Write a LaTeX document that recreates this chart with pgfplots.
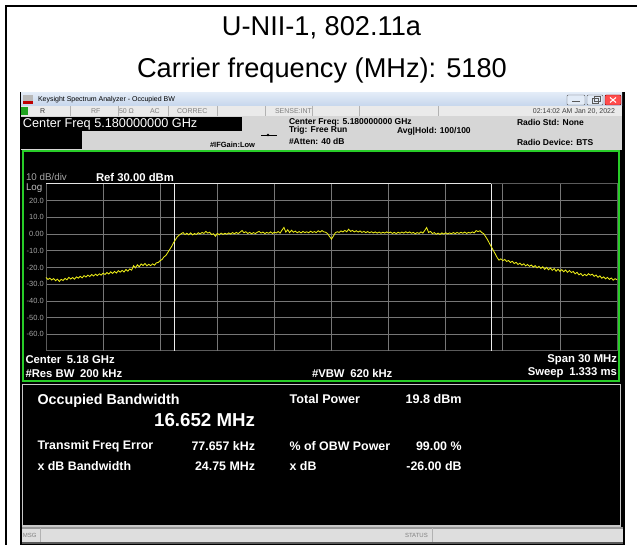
\documentclass[border=0pt]{standalone}
\usepackage{pgfplots}
\pgfplotsset{compat=1.18}
\usepackage{fontspec}
\setmainfont{Liberation Sans}
\definecolor{trace}{RGB}{236,236,24}
\definecolor{ggreen}{RGB}{40,205,40}
\definecolor{gridc}{RGB}{118,118,118}
\definecolor{labg}{RGB}{165,165,165}
\definecolor{hdr}{RGB}{214,214,214}
\definecolor{rowc}{RGB}{234,234,234}
\definecolor{tbA}{RGB}{226,235,247}
\definecolor{tbB}{RGB}{198,214,236}
\definecolor{boxb}{RGB}{200,200,200}
\definecolor{stat}{RGB}{222,222,222}
\newcommand{\fs}[1]{\fontsize{#1}{#1}\selectfont}
\begin{document}
\begin{tikzpicture}
\useasboundingbox (0pt,0pt) rectangle (637pt,545pt);
\begin{scope}[x=1pt, y=1pt, shift={(0,545)}, yscale=-1, every node/.style={inner sep=0pt, outer sep=0pt}]
% outer frame
\draw[line width=2pt] (6,546) -- (6,6) -- (640,6);
% titles
\node at (321.5,28) {\fs{27.2}U-NII-1, 802.11a};
\node at (322,70) {\fs{27.2}Carrier frequency (MHz): 5180};
% screenshot base
\fill[black] (20,92) rectangle (625,545);
% title bar
\shade[top color=tbA, bottom color=tbB] (21,93) rectangle (622,106);
\fill[gray!55] (23,95) rectangle (33,101);
\fill[red!75!black] (23,101) rectangle (33,104);
\node[anchor=west] at (38,99.5) {\fs{7}Keysight Spectrum Analyzer - Occupied BW};
\draw[gray!70!black, fill=tbA, rounded corners=1pt] (567,95) rectangle (585,105);
\draw[gray!70!black, line width=1pt] (572,101.5) -- (580,101.5);
\draw[gray!70!black, fill=tbA, rounded corners=1pt] (587,95) rectangle (603,105);
\draw[gray!70!black] (592,98) rectangle (598,103);
\draw[gray!70!black] (594,96.5) rectangle (600,101);
\draw[red!50!black, fill=red!70!white, rounded corners=1pt] (605,95) rectangle (621,105);
\draw[white, line width=1pt] (610,97.5) -- (616,102.5) (610,102.5) -- (616,97.5);
% status row
\fill[rowc] (21,106) rectangle (622,116);
\fill[ggreen!80!black] (21,107) rectangle (28,115);
\foreach \sx in {70,118,168,217,265,312,359,438} {\draw[gray!60] (\sx,106) -- (\sx,116);}
\node[anchor=west] at (40,111) {\fs{7}\color{black!80}R};
\node[anchor=west] at (91,111) {\fs{7}\color{gray}RF};
\node[anchor=west] at (119,111) {\fs{7}\color{gray}50 Ω};
\node[anchor=west] at (150,111) {\fs{7}\color{gray}AC};
\node[anchor=west] at (177,111) {\fs{7}\color{gray}CORREC};
\node[anchor=west] at (275,111) {\fs{7}\color{gray}SENSE:INT};
\node[anchor=east] at (615,112) {\fs{7}\color{black!75}02:14:02 AM Jan 20, 2022};
% header
\fill[hdr] (21,116) rectangle (622,150);
\fill[black] (21,117) rectangle (242,131);
\node[anchor=west] at (23,124) {\fs{12.7}\color{white}Center Freq 5.180000000 GHz};
\fill[black] (21,131) rectangle (82,149);
\node[anchor=west] at (210,145) {\fs{7.5}\bfseries \#IFGain:Low};
\draw[line width=0.6pt] (261,135) -- (277,135);
\fill (268,135) circle (1.3);
\node[anchor=west] at (289,122) {\fs{8.5}\bfseries Center Freq: 5.180000000 GHz};
\node[anchor=west] at (289,130.5) {\fs{8.5}\bfseries Trig: Free Run};
\node[anchor=west] at (289,141.5) {\fs{8.5}\bfseries \#Atten: 40 dB};
\node[anchor=west] at (397,131) {\fs{8.5}\bfseries Avg|Hold: 100/100};
\node[anchor=west] at (517,122) {\fs{8.5}\bfseries Radio Std: None};
\node[anchor=west] at (517,142) {\fs{8.5}\bfseries Radio Device: BTS};
% green frame
\draw[ggreen, line width=2.4pt] (23.2,151.2) rectangle (619.2,380.8);
\node[anchor=west] at (26,177) {\fs{9.8}\color{labg}10 dB/div};
\node[anchor=west] at (96,177) {\fs{11.3}\bfseries\color{white}Ref 30.00 dBm};
\node[anchor=west] at (26,188) {\fs{9.8}\color{labg!70!white}Log};
\node[anchor=west] at (25.5,360) {\fs{11.3}\bfseries\color{white}Center\hspace{0.5em}5.18 GHz};
\node[anchor=west] at (25.5,373) {\fs{11.3}\bfseries\color{white}\#Res BW\hspace{0.5em}200 kHz};
\node[anchor=west] at (312,373) {\fs{11.3}\bfseries\color{white}\#VBW\hspace{0.5em}620 kHz};
\node[anchor=east] at (617,360) {\fs{11.3}\bfseries\color{white}Span 30 MHz};
\node[anchor=east] at (617,373) {\fs{11.3}\bfseries\color{white}Sweep\hspace{0.5em}1.333 ms};
% result box
\draw[boxb, line width=1.2pt] (22.6,384.6) rectangle (620.4,526);
\node[anchor=west] at (37.5,401) {\fs{14.3}\bfseries\color{white}Occupied Bandwidth};
\node[anchor=east] at (255,420) {\fs{18.7}\bfseries\color{white}16.652 MHz};
\node[anchor=west] at (289.6,399) {\fs{12.6}\bfseries\color{white}Total Power};
\node[anchor=east] at (461.6,399) {\fs{12.6}\bfseries\color{white}19.8 dBm};
\node[anchor=west] at (37.5,446) {\fs{12.4}\bfseries\color{white}Transmit Freq Error};
\node[anchor=east] at (255,446) {\fs{12.4}\bfseries\color{white}77.657 kHz};
\node[anchor=west] at (289.6,446) {\fs{12.4}\bfseries\color{white}\% of OBW Power};
\node[anchor=east] at (461.6,446) {\fs{12.4}\bfseries\color{white}99.00 \%};
\node[anchor=west] at (37.5,466) {\fs{12.4}\bfseries\color{white}x dB Bandwidth};
\node[anchor=east] at (255,466) {\fs{12.4}\bfseries\color{white}24.75 MHz};
\node[anchor=west] at (289.6,466) {\fs{12.4}\bfseries\color{white}x dB};
\node[anchor=east] at (461.6,466) {\fs{12.4}\bfseries\color{white}-26.00 dB};
% status bar
\fill[stat] (22,527.5) rectangle (623,542.5);
\draw[gray!80, line width=1.4pt] (22,528) -- (623,528);
\draw[black!65, line width=2pt] (22,543.5) -- (623,543.5);
\draw[gray!60] (40,528) -- (40,542.5);
\draw[gray!60] (432,528) -- (432,542.5);
\node[anchor=west] at (23,535.5) {\fs{6}\color{gray}MSG};
\node[anchor=west] at (405,535.5) {\fs{6}\color{gray}STATUS};
\end{scope}
\begin{axis}[
  at={(46pt,194pt)}, anchor=south west,
  width=571pt, height=167pt, scale only axis,
  xmin=-15, xmax=15, ymin=-70, ymax=30,
  xtick=\empty,
  ytick={-60,-50,...,20},
  yticklabels={-60.0,-50.0,-40.0,-30.0,-20.0,-10.0,0.00,10.0,20.0},
  yticklabel style={font=\fs{7.5}, text=labg, anchor=east, inner sep=0pt, xshift=-2pt},
  major tick length=0pt,
  ymajorgrids,
  major grid style={draw=gridc, line width=0.7pt},
  axis line style={draw=gridc!120, line width=1pt},
  clip=false,
]
\pgfplotsinvokeforeach{-12,-9,-6,-3,0,3,6,9,12}{
  \addplot[draw=gridc, line width=0.7pt] coordinates {(#1,-70) (#1,30)};
}
\addplot[draw=white!80!gray, line width=1pt] coordinates {(-15,30) (8.404,30)};
\addplot[draw=white!85!gray, line width=0.9pt] coordinates {(-8.248,-70) (-8.248,30)};
\addplot[draw=white!85!gray, line width=0.9pt] coordinates {(8.404,-70) (8.404,30)};
\addplot[trace, line width=0.85pt] table {
x y
-15.0 -26.0
-14.9 -27.2
-14.8 -26.4
-14.7 -27.5
-14.6 -26.6
-14.5 -27.9
-14.4 -27.0
-14.3 -28.3
-14.2 -27.1
-14.1 -27.8
-14.0 -26.5
-13.9 -27.4
-13.8 -25.9
-13.7 -26.9
-13.6 -26.0
-13.5 -27.0
-13.4 -25.6
-13.3 -26.4
-13.2 -25.3
-13.1 -26.2
-13.0 -24.9
-12.9 -25.7
-12.8 -24.6
-12.7 -25.4
-12.6 -24.2
-12.5 -25.1
-12.4 -24.0
-12.3 -24.9
-12.2 -23.8
-12.1 -24.6
-12.0 -23.4
-11.9 -24.2
-11.8 -23.0
-11.7 -23.9
-11.6 -22.6
-11.5 -23.6
-11.4 -22.4
-11.3 -23.3
-11.2 -21.9
-11.1 -22.8
-11.0 -21.7
-10.9 -22.7
-10.8 -21.2
-10.7 -22.2
-10.6 -20.9
-10.5 -21.6
-10.4 -18.9
-10.3 -20.2
-10.2 -18.4
-10.1 -19.6
-10.0 -17.9
-9.9 -18.8
-9.8 -17.6
-9.7 -19.0
-9.6 -18.1
-9.5 -18.9
-9.4 -17.8
-9.3 -18.6
-9.2 -17.2
-9.1 -17.0
-9.0 -15.9
-8.9 -15.2
-8.8 -13.6
-8.7 -12.8
-8.6 -11.0
-8.5 -9.2
-8.4 -7.4
-8.3 -5.2
-8.2 -3.4
-8.1 -1.6
-8.0 -0.6
-7.9 0.2
-7.8 0.9
-7.7 -0.3
-7.6 0.5
-7.5 -0.4
-7.4 0.7
-7.3 -0.5
-7.2 0.3
-7.1 -0.2
-7.0 0.8
-6.9 0.1
-6.8 1.0
-6.7 0.4
-6.6 1.6
-6.5 0.6
-6.4 1.1
-6.3 -0.3
-6.2 0.2
-6.1 -1.3
-6.0 0.4
-5.9 -0.4
-5.8 0.6
-5.7 -0.2
-5.6 0.5
-5.5 -0.1
-5.4 0.7
-5.3 0.0
-5.2 0.9
-5.1 0.2
-5.0 1.0
-4.9 0.3
-4.8 1.2
-4.7 2.1
-4.6 0.8
-4.5 1.4
-4.4 0.4
-4.3 1.0
-4.2 0.2
-4.1 0.9
-4.0 0.3
-3.9 1.1
-3.8 1.6
-3.7 0.6
-3.6 1.2
-3.5 0.3
-3.4 1.0
-3.3 0.5
-3.2 1.3
-3.1 0.4
-3.0 1.1
-2.9 0.7
-2.8 1.5
-2.7 0.6
-2.6 2.4
-2.5 4.0
-2.4 1.2
-2.3 2.6
-2.2 0.9
-2.1 2.3
-2.0 1.1
-1.9 1.8
-1.8 0.8
-1.7 1.5
-1.6 0.7
-1.5 1.6
-1.4 0.9
-1.3 1.4
-1.2 0.8
-1.1 1.7
-1.0 1.0
-0.9 1.5
-0.8 0.9
-0.7 2.0
-0.6 1.2
-0.5 2.1
-0.4 1.3
-0.3 1.1
-0.2 0.2
-0.1 -1.5
0.0 -3.0
0.1 -1.2
0.2 0.8
0.3 1.4
0.4 1.0
0.5 1.9
0.6 1.3
0.7 2.2
0.8 1.4
0.9 2.9
1.0 1.6
1.1 2.2
1.2 1.3
1.3 2.0
1.4 1.2
1.5 1.9
1.6 1.0
1.7 1.6
1.8 0.9
1.9 1.5
2.0 0.8
2.1 1.4
2.2 0.7
2.3 1.3
2.4 0.6
2.5 1.2
2.6 0.5
2.7 1.1
2.8 0.6
2.9 1.3
3.0 0.7
3.1 1.2
3.2 0.4
3.3 1.0
3.4 0.3
3.5 1.1
3.6 0.5
3.7 1.2
3.8 0.6
3.9 1.4
4.0 0.7
4.1 1.3
4.2 0.5
4.3 1.0
4.4 0.2
4.5 0.9
4.6 0.4
4.7 1.3
4.8 0.6
4.9 2.2
5.0 3.9
5.1 1.0
5.2 1.6
5.3 0.3
5.4 0.9
5.5 -0.1
5.6 0.6
5.7 -0.2
5.8 0.7
5.9 0.0
6.0 0.8
6.1 0.1
6.2 0.7
6.3 0.2
6.4 0.9
6.5 0.3
6.6 1.0
6.7 0.4
6.8 1.1
6.9 0.5
7.0 1.2
7.1 0.4
7.2 1.0
7.3 0.6
7.4 1.3
7.5 0.7
7.6 2.1
7.7 1.5
7.8 2.0
7.9 0.9
8.0 0.2
8.1 -1.6
8.2 -3.4
8.3 -5.6
8.4 -7.6
8.5 -9.8
8.6 -11.8
8.7 -14.0
8.8 -15.6
8.9 -14.8
9.0 -15.9
9.1 -15.2
9.2 -16.4
9.3 -15.8
9.4 -17.0
9.5 -16.3
9.6 -17.6
9.7 -16.9
9.8 -18.2
9.9 -17.4
10.0 -18.6
10.1 -17.8
10.2 -19.0
10.3 -18.2
10.4 -19.3
10.5 -18.5
10.6 -19.8
10.7 -18.9
10.8 -20.2
10.9 -19.3
11.0 -20.5
11.1 -19.6
11.2 -21.1
11.3 -19.9
11.4 -21.4
11.5 -20.3
11.6 -21.7
11.7 -20.6
11.8 -22.2
11.9 -21.0
12.0 -22.3
12.1 -21.3
12.2 -22.6
12.3 -21.5
12.4 -22.9
12.5 -21.8
12.6 -23.0
12.7 -22.4
12.8 -23.8
12.9 -22.9
13.0 -24.4
13.1 -23.6
13.2 -25.0
13.3 -24.1
13.4 -24.9
13.5 -23.7
13.6 -24.6
13.7 -24.0
13.8 -25.3
13.9 -24.5
14.0 -25.9
14.1 -25.0
14.2 -26.4
14.3 -25.6
14.4 -26.8
14.5 -25.9
14.6 -27.1
14.7 -26.3
14.8 -27.6
14.9 -26.7
15.0 -27.3
};
\end{axis}
\end{tikzpicture}
\end{document}
